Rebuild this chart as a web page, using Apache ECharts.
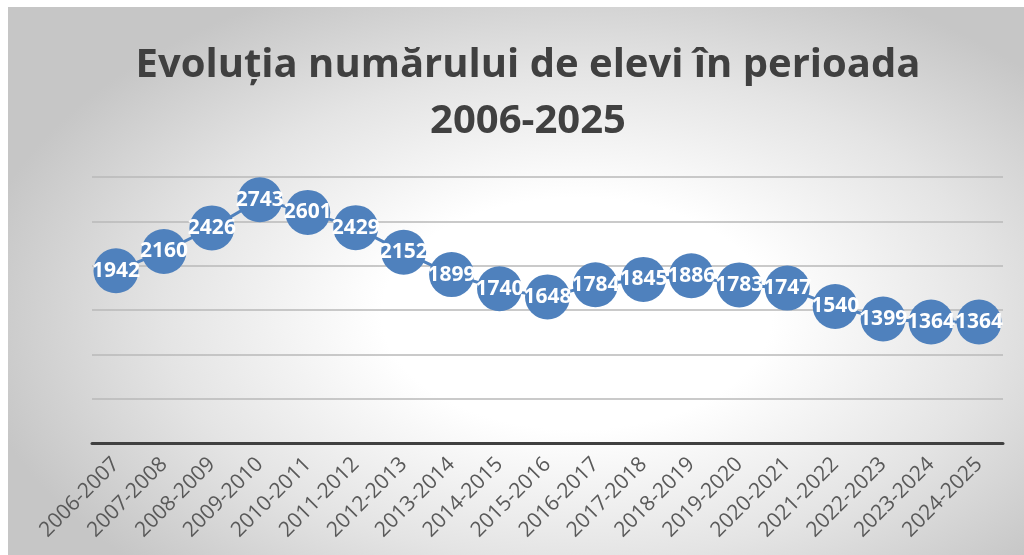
<!DOCTYPE html>
<html>
<head>
<meta charset="utf-8">
<script src="https://cdn.jsdelivr.net/npm/echarts@6/dist/echarts.min.js"></script>
<style>
  html, body { margin: 0; padding: 0; background: #ffffff; }
  #chart {
    position: absolute; left: 8px; top: 7px; width: 1016px; height: 548px;
    background: radial-gradient(ellipse 60% 66% at 56% 56%, #ffffff 0%, #ffffff 32%, #e4e4e4 68%, #c6c6c6 100%);
  }
</style>
</head>
<body>
<div id="chart"></div>
<script>
// School years on the category axis
const schoolYears = [
  '2006-2007', '2007-2008', '2008-2009', '2009-2010', '2010-2011',
  '2011-2012', '2012-2013', '2013-2014', '2014-2015', '2015-2016',
  '2016-2017', '2017-2018', '2018-2019', '2019-2020', '2020-2021',
  '2021-2022', '2022-2023', '2023-2024', '2024-2025'
];
// Number of pupils per school year
const pupilCounts = [
  1942, 2160, 2426, 2743, 2601, 2429, 2152, 1899, 1740, 1648,
  1784, 1845, 1886, 1783, 1747, 1540, 1399, 1364, 1364
];
const titleLines = ['Evoluția numărului de elevi în perioada', '2006-2025'];
const valueMin = 0;
const valueMax = 3000;
const valueStep = 500;

const chart = echarts.init(document.getElementById('chart'), null, { renderer: 'canvas' });
chart.setOption({
  backgroundColor: 'transparent',
  animation: false,
  title: {
    text: titleLines.join('\n'),
    left: 515,
    textAlign: 'center',
    top: 26,
    textStyle: {
      fontFamily: 'Open Sans',
      fontWeight: 'bold',
      fontSize: 40,
      lineHeight: 56,
      color: '#404040'
    }
  },
  grid: { left: 84, right: 21, top: 170, bottom: 112, containLabel: false },
  xAxis: {
    type: 'category',
    data: schoolYears,
    boundaryGap: true,
    axisLine: { lineStyle: { color: '#404040', width: 3 } },
    axisTick: { show: false },
    axisLabel: {
      interval: 0,
      rotate: 45,
      margin: 18,
      color: '#595959',
      fontFamily: 'Open Sans',
      fontSize: 21
    }
  },
  yAxis: {
    type: 'value',
    min: valueMin,
    max: valueMax,
    interval: valueStep,
    axisLine: { show: false },
    axisTick: { show: false },
    axisLabel: { show: false },
    splitLine: { lineStyle: { color: '#b8b8b8', width: 1.5 } }
  },
  series: [{
    type: 'line',
    data: pupilCounts,
    symbol: 'circle',
    symbolSize: 45,
    lineStyle: { color: '#4F81BD', width: 3 },
    itemStyle: { color: '#4F81BD' },
    label: {
      show: true,
      position: 'inside',
      color: '#ffffff',
      fontFamily: 'Open Sans',
      fontWeight: 'bold',
      fontSize: 21
    }
  }]
});
</script>
</body>
</html>
